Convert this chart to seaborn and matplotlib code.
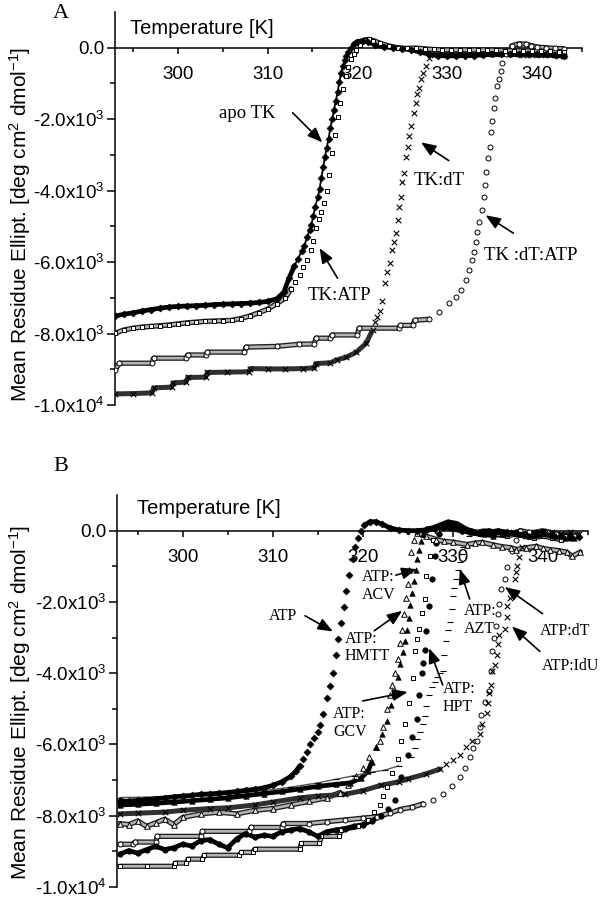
"""CD thermal unfolding of TK complexes: ellipticity vs temperature, panels A and B."""

import matplotlib
matplotlib.use("Agg")
import matplotlib.pyplot as plt
import matplotlib.patheffects as pe
import numpy as np
import seaborn as sns

# ---------------- panel A ----------------
# apo TK (filled diamonds)
apo_t = [293, 294, 295, 296, 297, 298, 299, 300, 301, 302, 303, 304, 305, 306, 307, 308, 309, 310, 311, 311.8, 312.4, 313.0,
         313.4, 313.8, 314.1, 314.4, 314.7, 314.9, 315.1, 315.3, 315.6, 315.8, 316.0, 316.2, 316.4, 316.6, 316.8, 317.0, 317.2, 317.4,
         317.6, 317.8, 318.0, 318.2, 318.4, 318.6, 318.8, 319.0, 319.3, 319.6,
         320.0, 320.6, 321.2, 322, 323, 324, 325, 326, 327, 328, 329, 330, 331, 332, 333, 334, 335, 336, 337, 338, 339, 340, 341, 342, 343]
apo_y = [-7510, -7460, -7420, -7370, -7330, -7290, -7260, -7240, -7230, -7220, -7210, -7190, -7180, -7170, -7160, -7150, -7130, -7100, -7030, -6850, -6450, -6100,
         -5900, -5700, -5550, -5300, -5100, -4950, -4700, -4450, -4190, -3950, -3650, -3350, -3050, -2800, -2550, -2250, -2000, -1750,
         -1500, -1250, -950, -700, -500, -350, -230, -120, 0, 100,
         170, 200, 170, 80, 20, 0, -30, -60, -120, -180, -220, -230, -230, -220, -220, -200, -190, -190, -180, -170, -170, -180, -190, -200, -220]

# TK:ATP (open squares)
tkatp_t = [293, 294, 295, 296, 297, 298, 299, 300, 301, 302, 303, 304, 305, 306, 307, 308, 309, 310, 311, 312, 312.6, 313.1, 313.6, 314.0,
           314.4, 314.8, 315.1, 315.4, 315.7, 316.0, 316.3, 316.6, 316.9, 317.2, 317.5, 317.8, 318.1, 318.4, 318.7, 319.0, 319.3, 319.6, 319.9,
           320.3, 320.8, 321.3, 321.8, 322.5, 323.5, 324.5, 325.5, 326.5, 327.5, 328.5, 329.5, 330.5, 331.5, 332.5, 333.5, 334.5, 335.5,
           336.5, 337.5, 338.5, 339.5, 340.5, 341.5, 342.5, 343.0]
tkatp_y = [-7990, -7900, -7850, -7820, -7800, -7780, -7760, -7730, -7700, -7680, -7660, -7650, -7640, -7630, -7580, -7510, -7420, -7320, -7170, -7000, -6750, -6560, -6370, -6150,
           -5950, -5650, -5400, -5050, -4800, -4600, -4350, -4000, -3550, -2950, -2450, -1950, -1550, -1150, -800, -550, -320, -180, -70,
           80, 220, 230, 200, 130, 50, 0, -20, -10, -30, -50, -60, -60, -60, -60, -60, -60, -70,
           -80, -80, -90, -90, -100, -100, -110, -110]

# TK:dT (crosses)
tkdt_t = [293, 295, 297.1, 297.3, 299.3, 299.5, 300.9, 301.1, 303.1, 303.3, 305.5, 307.9, 308.1, 310, 312, 314, 315.2, 315.4, 317.0, 317.7,
          318.8, 319.9, 321.0, 321.7,
          322.0, 322.2, 322.5, 322.8, 323.1, 323.3, 323.6, 323.9, 324.1, 324.3, 324.5, 324.7, 324.9, 325.0, 325.2, 325.4, 325.6, 325.8,
          326.0, 326.3, 326.6, 326.7, 326.9, 327.1, 327.3, 327.7, 328.0,
          328.5, 329.5, 330.5, 331.5, 332.5, 333.5, 334.5, 335.5, 336.5, 337.5, 338.5, 339.5, 340.5, 341.5, 342.5, 343.0]
tkdt_y = [-9690, -9680, -9660, -9520, -9500, -9380, -9360, -9230, -9220, -9090, -9080, -9070, -8980, -8990, -8990, -8980, -8960, -8840, -8820, -8740,
          -8660, -8520, -8270, -7900,
          -7680, -7540, -7380, -7100, -6590, -6280, -6030, -5670, -5450, -5200, -4830, -4470, -4190, -3770, -3520, -3070, -2790, -2460,
          -2180, -1840, -1560, -1290, -1120, -870, -700, -500, -280,
          -200, -170, -160, -160, -170, -170, -180, -180, -190, -190, -200, -200, -210, -210, -220, -220]

# TK:dT:ATP (open circles)
tkdtatp_t = [293, 293.5, 297.1, 297.3, 300.9, 301.1, 303.1, 303.3, 307.4, 307.6, 311, 313.5, 315.2, 315.4, 317.0, 317.2, 320.0, 320.2,
             324.6, 324.8, 326.2, 326.4, 328.0, 329.1,
             330.2, 331.0, 331.6, 332.1, 332.4, 332.8, 333.0, 333.2, 333.4, 333.6, 333.9, 334.1, 334.2, 334.3, 334.6, 334.8, 334.9,
             335.0, 335.2, 335.4, 335.6, 335.8, 336.0, 336.1, 336.6,
             337.2, 338.0, 338.8, 339.4, 340.0, 341.0, 342.0, 343.0]
tkdtatp_y = [-9020, -8830, -8830, -8690, -8690, -8600, -8600, -8520, -8520, -8380, -8360, -8300, -8290, -8130, -8130, -8040, -8040, -7850,
             -7850, -7770, -7770, -7630, -7600, -7400,
             -7150, -6980, -6790, -6510, -6230, -5950, -5730, -5450, -5170, -4890, -4550, -4190, -3850, -3490, -3100, -2790, -2370,
             -2040, -1680, -1400, -1060, -870, -640, -420, -170,
             50, 110, 100, 60, 20, 0, -20, -30]

# ---------------- panel B ----------------
# ATP (filled diamonds)
batp_t = [293, 294, 295, 296, 297, 298, 299, 300, 301, 302, 303, 304, 305, 306, 307, 308, 309, 310, 311, 312, 312.6, 313.0,
          313.4, 313.8, 314.2, 314.6, 315.0, 315.3, 315.6, 316.0, 316.4, 316.7, 317.0, 317.3, 317.6, 317.9, 318.2, 318.5, 318.9,
          319.2, 319.5, 319.8,
          320.2, 320.8, 321.5, 322.2, 323, 324, 325, 326, 327, 328, 329, 330, 331, 332, 333, 334, 335, 336, 337, 338, 339, 340,
          341, 342, 343, 344]
batp_y = [-7600, -7590, -7570, -7550, -7520, -7500, -7470, -7450, -7430, -7400, -7390, -7370, -7350, -7320, -7290, -7260, -7220, -7150, -7050, -6900, -6750, -6600,
          -6400, -6200, -6000, -5820, -5650, -5450, -5150, -4700, -4350, -4000, -3500, -3030, -2600, -2150, -1700, -1250, -800,
          -450, -200, 0,
          150, 250, 250, 180, 80, 20, 0, 0, 20, 50, 100, 60, 0, -50, -80, -50, 0, -40, -80, -100, -80, -50,
          -100, -150, -150, -180]

# ATP:ACV (filled triangles)
acv_t = [293, 295, 297, 299, 301, 303, 305, 307, 309, 311, 313, 315, 317, 318.6, 319.8, 320.6, 321.0,
         321.5, 322.1, 322.7, 323.2, 323.6, 323.9, 324.2, 324.5, 324.7, 324.9, 325.1, 325.3, 325.5, 325.7, 325.9, 326.1, 326.3, 326.5, 326.7,
         327.1, 327.8, 328.5, 329.5, 330.5, 331.5, 332.5, 333.5, 334.5, 335.5, 336.5, 337.5, 338.5, 339.5, 340.5, 341.5, 342.5, 343.5]
acv_y = [-7700, -7680, -7650, -7620, -7580, -7540, -7500, -7440, -7380, -7320, -7250, -7180, -7120, -7080, -6950, -6750, -6500,
         -6080, -5700, -5330, -4900, -4500, -4100, -3750, -3400, -3100, -2800, -2450, -2100, -1750, -1400, -1100, -800, -550, -300, -100,
         50, 80, 150, 250, 200, 50, -50, -100, -150, -100, -50, -100, -150, -100, -80, -150, -200, -200]

# ATP:HMTT (open triangles)
hmtt_t = [293, 294, 295, 296, 297, 298, 299, 300, 302, 304, 306, 308, 310, 312, 314, 316, 317.5,
          318.4, 319.3, 320.0, 320.7, 321.5, 321.9, 322.3, 322.7, 323.0, 323.3, 323.6, 323.9, 324.2, 324.4, 324.6, 324.8, 325.0, 325.2,
          325.4, 325.7,
          326.1, 327.0, 328.2, 329.0, 330.0, 331.6, 332.5, 333.3, 334.5, 335.5, 336.5, 337.1, 338.2, 339.3, 340.0, 340.8, 341.8, 342.7,
          343.3, 344.2]
hmtt_y = [-8220, -8250, -8150, -8300, -8200, -8100, -8250, -8050, -7950, -7900, -7950, -7850, -7800, -7700, -7600, -7500, -7350,
          -7150, -6900, -6650, -6350, -6080, -5900, -5500, -5000, -4600, -4330, -4000, -3600, -3150, -2800, -2330, -1900, -1500, -1100,
          -600, -250,
          -80, -150, -250, -300, -320, -390, -350, -330, -400, -450, -480, -530, -480, -440, -500, -530, -560, -610,
          -720, -600]

# ATP:GCV (open squares)
gcv_t = [293, 296, 299.0, 299.2, 300.4, 300.6, 302.2, 302.4, 306.3, 306.5, 307.8, 308.0, 313.0, 313.2, 315.2, 315.4, 317.4, 317.6, 319.5,
         320.6, 321.3, 321.9, 322.3, 322.7, 323.3, 323.9, 324.3, 324.7, 325.2, 325.6, 325.8, 326.1, 326.3, 326.6, 326.9, 327.1, 327.5, 327.8,
         328.3, 329, 330, 331, 332, 333, 334, 335, 336, 337, 338, 339, 340, 341, 342, 343]
gcv_y = [-9420, -9420, -9420, -9330, -9330, -9220, -9220, -9110, -9110, -9030, -9030, -8940, -8940, -8780, -8780, -8580, -8580, -8400, -8300,
         -8110, -7900, -7690, -7450, -7200, -6800, -6420, -5900, -5440, -4830, -4140, -3390, -3050, -2750, -2300, -1920, -1280, -700, -250,
         0, 100, 50, 0, -50, -100, -50, -100, -150, -100, -150, -200, -150, -200, -250, -200]

# ATP:HPT (filled circles)
hpt_t = [293, 294, 295, 296, 297, 298, 299, 300, 301, 302, 303, 304, 305, 306, 307, 308, 309, 310, 311, 312, 313, 314, 315, 316, 317,
         318, 319, 320, 321, 322,
         322.8, 323.6, 324.3, 325.0, 325.5, 326.0, 326.3, 326.6, 326.7, 326.9, 327.1, 327.4, 327.7, 328.0, 328.2, 328.5,
         328.9, 329.5, 330.2, 331, 332, 333, 334, 335, 336, 337, 338, 339, 340, 341, 342, 343]
hpt_y = [-9080, -8980, -9050, -8950, -8860, -8950, -8900, -8800, -8850, -8700, -8670, -8800, -8900, -8650, -8500, -8600, -8550, -8580,
         -8450, -8400, -8360, -8450, -8580, -8450, -8400, -8360, -8300, -8250, -8150, -8000,
         -7800, -7560, -6920, -6300, -5800, -5300, -4600, -4000, -3720, -3360, -2830, -2110, -1360, -720, -350, -100,
         100, 200, 150, 50, 0, -50, 0, -50, -100, -50, -100, -150, -100, -150, -150, -200]

# ATP:AZT (dashes)
azt_t = [293, 296, 300, 303, 306, 309, 312, 315, 317, 319, 321, 322.5, 324.0,
         325.4, 325.8, 326.1, 326.4, 326.7, 326.9, 327.1, 327.4, 327.7, 328.0, 328.3, 328.6, 328.9, 329.1, 329.3, 329.5, 329.7, 329.9,
         330.0, 330.2, 330.4, 330.6, 330.8, 331.0, 331.2,
         331.8, 332.5, 333.5, 334.5, 335.5, 336.5, 337.5, 338.5, 339.5, 340.5, 341.5, 342.5]
azt_y = [-7490, -7480, -7470, -7430, -7380, -7300, -7200, -7080, -6980, -6880, -6780, -6720, -6600,
         -6360, -6100, -5860, -5650, -5440, -5190, -4920, -4610, -4400, -4250, -4100, -4000, -3940, -3500, -3110, -2800, -2560, -2200,
         -1830, -1600, -1350, -1100, -890, -650, -450,
         -150, 0, 50, 0, -50, 0, -50, -100, -50, -100, -150, -100]

# ATP:dT (open circles)
bdt_t = [293, 294.5, 294.7, 297.0, 297.2, 302.0, 302.2, 307.4, 307.6, 311.0, 311.2, 314.0, 316, 318, 320, 321.6, 323, 324.1, 325.5,
         326.7, 327.8, 328.9, 329.9, 330.8,
         331.4, 331.9, 332.3, 332.7, 333.0, 333.2, 333.6, 334.1, 334.3, 334.4, 334.6, 334.8, 335.0, 335.2, 335.4, 335.8, 336.1, 336.6, 337.0,
         337.5, 338.5, 339.5, 340.5, 341.5, 342.5, 343.5]
bdt_y = [-8800, -8800, -8740, -8740, -8580, -8580, -8440, -8440, -8330, -8330, -8220, -8220, -8170, -8120, -8070, -8030, -7930, -7830, -7760,
         -7670, -7550, -7390, -7180, -6920,
         -6650, -6360, -6100, -5890, -5500, -5170, -4800, -4500, -3940, -3390, -3000, -2690, -2330, -2060, -1640, -1360, -1030, -580, -250,
         0, -50, -100, -50, -100, -150, -150]

# ATP:IdU (crosses)
idu_t = [293, 295, 298, 300, 303, 305, 308, 310, 313, 315, 318, 320, 322, 324, 325, 327, 328.6,
         329.3, 330.0, 330.8, 331.5, 332.2, 333.0, 333.3, 333.8, 333.9, 334.1, 334.3, 334.4, 334.7, 334.9, 335.0, 335.2, 335.8, 336.0,
         336.1, 336.4, 336.7, 336.9, 337.1, 337.2, 337.4, 337.7,
         338.2, 339, 340, 341, 342, 343, 344]
idu_y = [-7950, -7930, -7900, -7850, -7800, -7780, -7700, -7620, -7500, -7450, -7400, -7300, -7150, -7050, -6970, -6830, -6690,
         -6560, -6440, -6300, -6080, -5900, -5700, -5440, -5110, -4830, -4560, -4330, -3940, -3780, -3500, -3170, -2940, -2750, -2420,
         -2110, -1900, -1720, -1360, -1170, -1000, -750, -450,
         -150, -50, 0, -50, -100, -50, -100]

x_major = [300, 310, 320, 330, 340]
x_minor = [295, 305, 315, 325, 335, 345]
y_major = [0, -2000, -4000, -6000, -8000, -10000]
y_minor = [-1000, -3000, -5000, -7000, -9000]
y_labels = ["0.0", "-2.0x10$^3$", "-4.0x10$^3$", "-6.0x10$^3$", "-8.0x10$^3$", "-1.0x10$^4$"]
ylabel = "Mean Residue Ellipt. [deg cm$^2$ dmol$^{-1}$]"

sns.set_theme(style="ticks")
plt.rcParams["font.family"] = ["Liberation Sans", "DejaVu Sans"]
plt.rcParams["mathtext.fontset"] = "custom"
plt.rcParams["mathtext.rm"] = "Liberation Sans"
plt.rcParams["mathtext.it"] = "Liberation Sans:italic"
plt.rcParams["mathtext.bf"] = "Liberation Sans:bold"
for k in ("text.color", "axes.edgecolor", "xtick.color", "ytick.color", "axes.labelcolor"):
    plt.rcParams[k] = "black"
SERIF = ["Liberation Serif", "DejaVu Serif"]


def draw(ax, t, y, tr, marker, kind, s, chain=False):
    t = np.asarray(t, float)
    y = np.asarray(y, float)
    # dense flat stretches read as a thick band, transition as loose markers
    band = np.where((t <= tr[0]) | (t >= tr[1]), y, np.nan)
    if kind == "filled":
        ax.plot(t, band, color="black", lw=3.4, zorder=2)
    elif kind == "cross":
        ax.plot(t, band, color="#303030", lw=3.6, zorder=2)
    elif kind == "open":
        ax.plot(t, band, color="#b4b4b4", lw=1.9, zorder=2,
                path_effects=[pe.Stroke(linewidth=3.8, foreground="#1e1e1e"), pe.Normal()])
    else:
        ax.plot(t, band, color="#555555", lw=1.0, zorder=2)
    if chain:
        ax.plot(t, y, color="black", lw=1.3, zorder=2)
    if kind == "filled":
        sns.scatterplot(x=t, y=y, ax=ax, marker=marker, s=s, color="black", edgecolor="black",
                        linewidth=0.4, zorder=3, legend=False)
    elif kind == "open":
        sns.scatterplot(x=t, y=y, ax=ax, marker=marker, s=s, color="white", edgecolor="black",
                        linewidth=0.7, zorder=3, legend=False)
    else:
        sns.scatterplot(x=t, y=y, ax=ax, marker=marker, s=s, color="black",
                        linewidth=0.8, zorder=3, legend=False)


def style_axis(ax, xlim):
    ax.set_xlim(*xlim)
    ax.set_ylim(-10000, 1000)
    ax.grid(False)
    ax.spines["top"].set_visible(False)
    ax.spines["right"].set_visible(False)
    ax.spines["bottom"].set_position(("data", 0))
    for sp in ("left", "bottom"):
        ax.spines[sp].set_linewidth(1.1)
        ax.spines[sp].set_zorder(1)
    ax.set_xticks(x_major, labels=[str(v) for v in x_major])
    ax.set_xticks(x_minor, minor=True)
    ax.set_yticks(y_major, labels=y_labels)
    ax.set_yticks(y_minor, minor=True)
    ax.tick_params(axis="x", which="major", direction="out", length=4.5, width=1.1, pad=9, labelsize=13.5)
    ax.tick_params(axis="x", which="minor", direction="out", length=3, width=1.1)
    ax.tick_params(axis="y", which="major", direction="out", length=5.8, width=1.1, pad=1.5, labelsize=13.5)
    ax.tick_params(axis="y", which="minor", direction="out", length=3.5, width=1.1)
    ax.set_xlabel("")
    ax.set_ylabel("")


def arrow(ax, start, tip):
    ax.annotate("", xy=tip, xytext=start,
                arrowprops=dict(arrowstyle="-|>,head_length=0.75,head_width=0.3", color="black",
                                lw=1.2, mutation_scale=12, shrinkA=0, shrinkB=0))


fig = plt.figure(figsize=(6.04, 9.0), dpi=100)
ax_a = fig.add_axes([0.1904, 0.55, 0.7732, 0.4367])
ax_b = fig.add_axes([0.1937, 0.0145, 0.7798, 0.4355])

# ---- panel A ----
draw(ax_a, tkdt_t, tkdt_y, (321.7, 328.5), "x", "cross", 16)
draw(ax_a, tkdtatp_t, tkdtatp_y, (328.0, 337.2), "o", "open", 13)
draw(ax_a, tkatp_t, tkatp_y, (312.6, 320.3), "s", "open", 12)
draw(ax_a, apo_t, apo_y, (313.0, 319.6), "D", "filled", 13, chain=True)
style_axis(ax_a, (293.0, 345.05))
ax_a.text(294.7, 530, "Temperature [K]", fontsize=14.5, ha="left", va="center")

ax_a.text(307.7, -1840, "apo TK", family=SERIF, fontsize=13.5, ha="center", va="center")
arrow(ax_a, (312.8, -1820), (316.1, -2650))
ax_a.text(329.1, -3710, "TK:dT", family=SERIF, fontsize=13.5, ha="center", va="center")
arrow(ax_a, (330.2, -3160), (327.1, -2650))
ax_a.text(339.3, -5810, "TK :dT:ATP", family=SERIF, fontsize=13.5, ha="center", va="center")
arrow(ax_a, (337.4, -5190), (334.3, -4690))
ax_a.text(318.0, -6930, "TK:ATP", family=SERIF, fontsize=13.5, ha="center", va="center")
arrow(ax_a, (317.8, -6450), (315.8, -5610))

# ---- panel B ----
draw(ax_b, gcv_t, gcv_y, (319.5, 328.3), "s", "open", 12)
draw(ax_b, bdt_t, bdt_y, (326.7, 337.5), "o", "open", 13)
draw(ax_b, hpt_t, hpt_y, (322.0, 328.9), "o", "filled", 16)
draw(ax_b, hmtt_t, hmtt_y, (317.5, 326.1), "^", "open", 16)
draw(ax_b, idu_t, idu_y, (328.6, 338.2), "x", "cross", 16)
draw(ax_b, acv_t, acv_y, (321.0, 327.1), "^", "filled", 16)
draw(ax_b, azt_t, azt_y, (324.0, 331.8), "_", "dash", 22)
draw(ax_b, batp_t, batp_y, (313.0, 320.2), "D", "filled", 13)
style_axis(ax_b, (292.7, 345.05))
ax_b.text(294.9, 611, "Temperature [K]", fontsize=14.5, ha="left", va="center")

b_font = dict(family=SERIF, fontsize=11.5, va="center", linespacing=1.15)
ax_b.text(311.1, -2390, "ATP", ha="center", **b_font)
arrow(ax_b, (313.6, -2390), (316.7, -2830))
ax_b.text(319.9, -1560, "ATP:\nACV", ha="left", **b_font)
arrow(ax_b, (323.7, -1250), (326.0, -1080))
ax_b.text(318.0, -3280, "ATP:\nHMTT", ha="left", **b_font)
arrow(ax_b, (321.3, -2810), (324.4, -2250))
ax_b.text(316.7, -5390, "ATP:\nGCV", ha="left", **b_font)
arrow(ax_b, (320.0, -4780), (325.0, -4530))
ax_b.text(331.3, -2500, "ATP:\nAZT", ha="left", **b_font)
arrow(ax_b, (331.9, -1920), (330.8, -1080))
ax_b.text(328.9, -4690, "ATP:\nHPT", ha="left", **b_font)
arrow(ax_b, (328.9, -4330), (327.4, -3300))
ax_b.text(339.7, -2810, "ATP:dT", ha="left", **b_font)
arrow(ax_b, (340.0, -2330), (335.8, -1580))
ax_b.text(339.9, -3810, "ATP:IdU", ha="left", **b_font)
arrow(ax_b, (339.7, -3390), (336.6, -2690))

# panel letters and y labels
fig.text(61 / 604, 1 - 14 / 900, "A", family=SERIF, fontsize=16, ha="center", va="center")
fig.text(61 / 604, 1 - 467 / 900, "B", family=SERIF, fontsize=16, ha="center", va="center")
fig.text(20 / 604, 1 - 224 / 900, ylabel, rotation=90, fontsize=15, ha="center", va="center")
fig.text(20 / 604, 1 - 702 / 900, ylabel, rotation=90, fontsize=15, ha="center", va="center")

fig.savefig("out.png", dpi=100)
